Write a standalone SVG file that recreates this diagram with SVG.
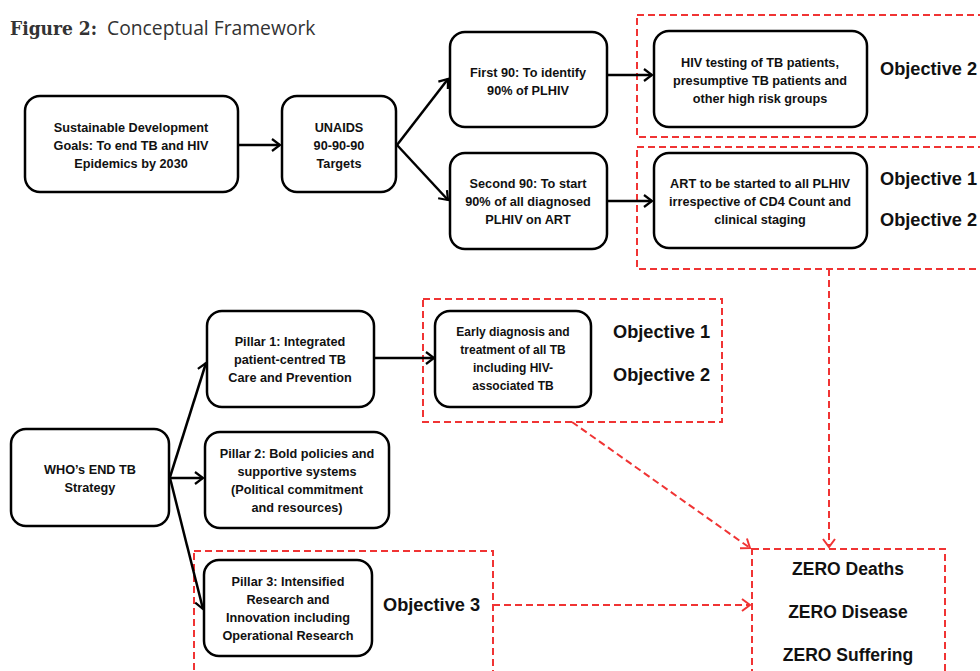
<svg xmlns="http://www.w3.org/2000/svg" width="980" height="671" viewBox="0 0 980 671">
<style>
  .box { fill: #fff; stroke: #000; stroke-width: 2.5; }
  .red { fill: none; stroke: #f03434; stroke-width: 2; stroke-dasharray: 7 4; }
  .t { font-family: "Liberation Sans", Arial, sans-serif; font-weight: bold; font-size: 12.7px; fill: #111; text-anchor: middle; }
  .ts { font-size: 12px; }
  .obj { font-family: "Liberation Sans", Arial, sans-serif; font-weight: bold; font-size: 18.2px; fill: #111; }
  .zero { font-family: "Liberation Sans", Arial, sans-serif; font-weight: bold; font-size: 17.5px; fill: #111; text-anchor: middle; }
  .arr { fill: none; stroke: #000; stroke-width: 2.5; marker-end: url(#ah); }
  .rarr { fill: none; stroke: #f03434; stroke-width: 2; stroke-dasharray: 7 4; marker-end: url(#rh); }
</style>
<defs>
  <marker id="ah" viewBox="-10 -7 12 14" markerWidth="12" markerHeight="14" refX="0" refY="0" orient="auto" markerUnits="userSpaceOnUse">
    <path d="M-8,-6 L0,0 L-8,6" fill="none" stroke="#000" stroke-width="2.2"/>
  </marker>
  <marker id="rh" viewBox="-10 -7 12 14" markerWidth="12" markerHeight="14" refX="0" refY="0" orient="auto" markerUnits="userSpaceOnUse">
    <path d="M-8,-6 L0,0 L-8,6" fill="none" stroke="#f03434" stroke-width="2"/>
  </marker>
</defs>
<rect width="980" height="671" fill="#fff"/>

<g id="title">
  <text x="10" y="35" font-family="'DejaVu Serif Condensed', 'DejaVu Serif', serif" font-weight="bold" font-size="19" fill="#333">Figure 2:</text>
  <text x="107" y="35" font-family="'Open Sans', sans-serif" font-size="19.3" fill="#333">Conceptual Framework</text>
</g>

<g id="groups">
  <rect id="grp-obj2" class="red" x="637" y="15" width="400" height="122"/>
  <rect id="grp-obj12" class="red" x="637" y="147" width="400" height="122"/>
  <rect id="grp-pillar1" class="red" x="423" y="299" width="299" height="123"/>
  <rect id="grp-pillar3" class="red" x="194" y="551" width="299" height="140"/>
</g>

<g id="connectors">
  <path class="arr" d="M238,145 L280,145"/>
  <path class="arr" d="M397,145 L448,79"/>
  <path class="arr" d="M397,145 L448,200"/>
  <path class="arr" d="M607,75 L652,75"/>
  <path class="arr" d="M607,201 L652,201"/>
  <path class="arr" d="M170,477 L206,363"/>
  <path class="arr" d="M170,478 L203,478"/>
  <path class="arr" d="M170,478 L203,609"/>
  <path class="arr" d="M374,358 L434,358"/>
  <path class="rarr" d="M829,269 L829,547"/>
  <path class="rarr" d="M572,422 L750,548"/>
  <path class="rarr" d="M493,605 L750,605"/>
</g>

<g id="sdg">
  <rect class="box" x="25" y="96" width="213" height="96" rx="15"/>
  <text class="t" x="131" y="131.5">Sustainable Development</text>
  <text class="t" x="131" y="149.5">Goals: To end TB and HIV</text>
  <text class="t" x="131" y="167.5">Epidemics by 2030</text>
</g>
<g id="unaids">
  <rect class="box" x="282" y="96" width="114" height="96" rx="15"/>
  <text class="t" x="339" y="131.5">UNAIDS</text>
  <text class="t" x="339" y="149.5">90-90-90</text>
  <text class="t" x="339" y="167.5">Targets</text>
</g>
<g id="first90">
  <rect class="box" x="450" y="32" width="157" height="95" rx="15"/>
  <text class="t" x="528" y="76.5">First 90: To identify</text>
  <text class="t" x="528" y="94.5">90% of PLHIV</text>
</g>
<g id="second90">
  <rect class="box" x="450" y="153" width="157" height="96" rx="15"/>
  <text class="t" x="528" y="187.5">Second 90: To start</text>
  <text class="t" x="528" y="205.5">90% of all diagnosed</text>
  <text class="t" x="528" y="223.5">PLHIV on ART</text>
</g>
<g id="hivtesting">
  <rect class="box" x="654" y="31" width="213" height="96" rx="15"/>
  <text class="t" x="760" y="66.5">HIV testing of TB patients,</text>
  <text class="t" x="760" y="84.5">presumptive TB patients and</text>
  <text class="t" x="760" y="102.5">other high risk groups</text>
</g>
<g id="art">
  <rect class="box" x="654" y="153" width="213" height="95" rx="15"/>
  <text class="t" x="760" y="187.5">ART to be started to all PLHIV</text>
  <text class="t" x="760" y="205.5">irrespective of CD4 Count and</text>
  <text class="t" x="760" y="223.5">clinical staging</text>
</g>
<g id="obj-top">
  <text class="obj" x="880" y="75">Objective 2</text>
  <text class="obj" x="880" y="185">Objective 1</text>
  <text class="obj" x="880" y="226">Objective 2</text>
</g>

<g id="who">
  <rect class="box" x="11" y="429" width="158" height="97" rx="15"/>
  <text class="t" x="90" y="473.5">WHO’s END TB</text>
  <text class="t" x="90" y="491.5">Strategy</text>
</g>
<g id="pillar1">
  <rect class="box" x="207" y="311" width="167" height="96" rx="15"/>
  <text class="t" x="290" y="346">Pillar 1: Integrated</text>
  <text class="t" x="290" y="364">patient-centred TB</text>
  <text class="t" x="290" y="382">Care and Prevention</text>
</g>
<g id="pillar2">
  <rect class="box" x="205" y="432" width="184" height="96" rx="15"/>
  <text class="t" x="297" y="457.5">Pillar 2: Bold policies and</text>
  <text class="t" x="297" y="475.5">supportive systems</text>
  <text class="t" x="297" y="493.5">(Political commitment</text>
  <text class="t" x="297" y="511.5">and resources)</text>
</g>
<g id="pillar3">
  <rect class="box" x="204" y="560" width="168" height="96" rx="15"/>
  <text class="t" x="288" y="585.5">Pillar 3: Intensified</text>
  <text class="t" x="288" y="603.5">Research and</text>
  <text class="t" x="288" y="621.5">Innovation including</text>
  <text class="t" x="288" y="639.5">Operational Research</text>
</g>
<g id="early">
  <rect class="box" x="435" y="311" width="156" height="96" rx="15"/>
  <text class="t ts" x="513" y="335.5">Early diagnosis and</text>
  <text class="t ts" x="513" y="353.5">treatment of all TB</text>
  <text class="t ts" x="513" y="371.5">including HIV-</text>
  <text class="t ts" x="513" y="389.5">associated TB</text>
</g>
<g id="obj-mid">
  <text class="obj" x="613" y="338">Objective 1</text>
  <text class="obj" x="613" y="381">Objective 2</text>
  <text class="obj" x="383" y="611">Objective 3</text>
</g>
<g id="zero">
  <rect class="red" x="752" y="549" width="193" height="140"/>
  <text class="zero" x="848" y="575">ZERO Deaths</text>
  <text class="zero" x="848" y="618">ZERO Disease</text>
  <text class="zero" x="848" y="661">ZERO Suffering</text>
</g>
</svg>
